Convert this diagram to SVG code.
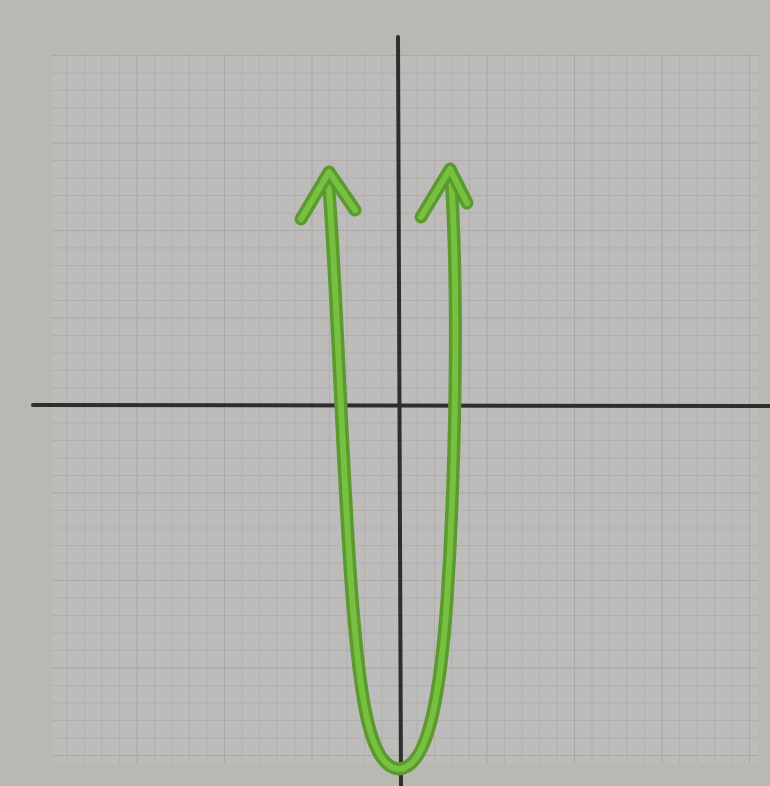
<svg xmlns="http://www.w3.org/2000/svg" width="770" height="786" viewBox="0 0 770 786">
  <style>
    .axis { stroke: #2e2e2c; stroke-width: 4; fill: none; stroke-linecap: round; }
    .curve { fill: none; stroke: #5a9a2e; stroke-width: 13; stroke-linecap: round; stroke-linejoin: round; }
    .curve-hi { fill: none; stroke: #78c040; stroke-width: 6; stroke-linecap: round; stroke-linejoin: round; }
  </style>
  <defs>
    <pattern id="grid" x="49" y="55" width="17.5" height="17.5" patternUnits="userSpaceOnUse">
      <rect width="17.5" height="17.5" fill="#bdbcba"/>
      <path d="M0 0 H17.5 M0 0 V17.5" stroke="#acaba9" stroke-width="1.5" fill="none"/>
    </pattern>
    <pattern id="gridMajor" x="49" y="55" width="87.5" height="87.5" patternUnits="userSpaceOnUse">
      <path d="M0 0 H87.5 M0 0 V87.5" stroke="#a4a3a1" stroke-width="2" fill="none"/>
    </pattern>
  </defs>
  <rect width="770" height="786" fill="#b8b9b2"/>
  <rect x="52" y="55" width="706" height="708" fill="url(#grid)"/>
  <rect x="52" y="55" width="706" height="708" fill="url(#gridMajor)" opacity="0.5"/>
  <g id="axes">
    <line class="axis" x1="33" y1="405" x2="770" y2="406"/>
    <line class="axis" x1="398" y1="37" x2="401" y2="786" stroke-width="3"/>
  </g>
  <g id="parabola">
    <path class="curve" d="M328 176 C338 300, 343 500, 354 620 C361 700, 370 766, 398 769 C427 769, 440 700, 447 600 C455 480, 459 300, 451 176"/>
    <path class="curve-hi" d="M328 176 C338 300, 343 500, 354 620 C361 700, 370 766, 398 769 C427 769, 440 700, 447 600 C455 480, 459 300, 451 176"/>
    <polyline class="curve" points="301,219 329,172 355,210"/>
    <polyline class="curve-hi" points="301,219 329,172 355,210"/>
    <polyline class="curve" points="421,217 450,169 467,203"/>
    <polyline class="curve-hi" points="421,217 450,169 467,203"/>
  </g>
</svg>
